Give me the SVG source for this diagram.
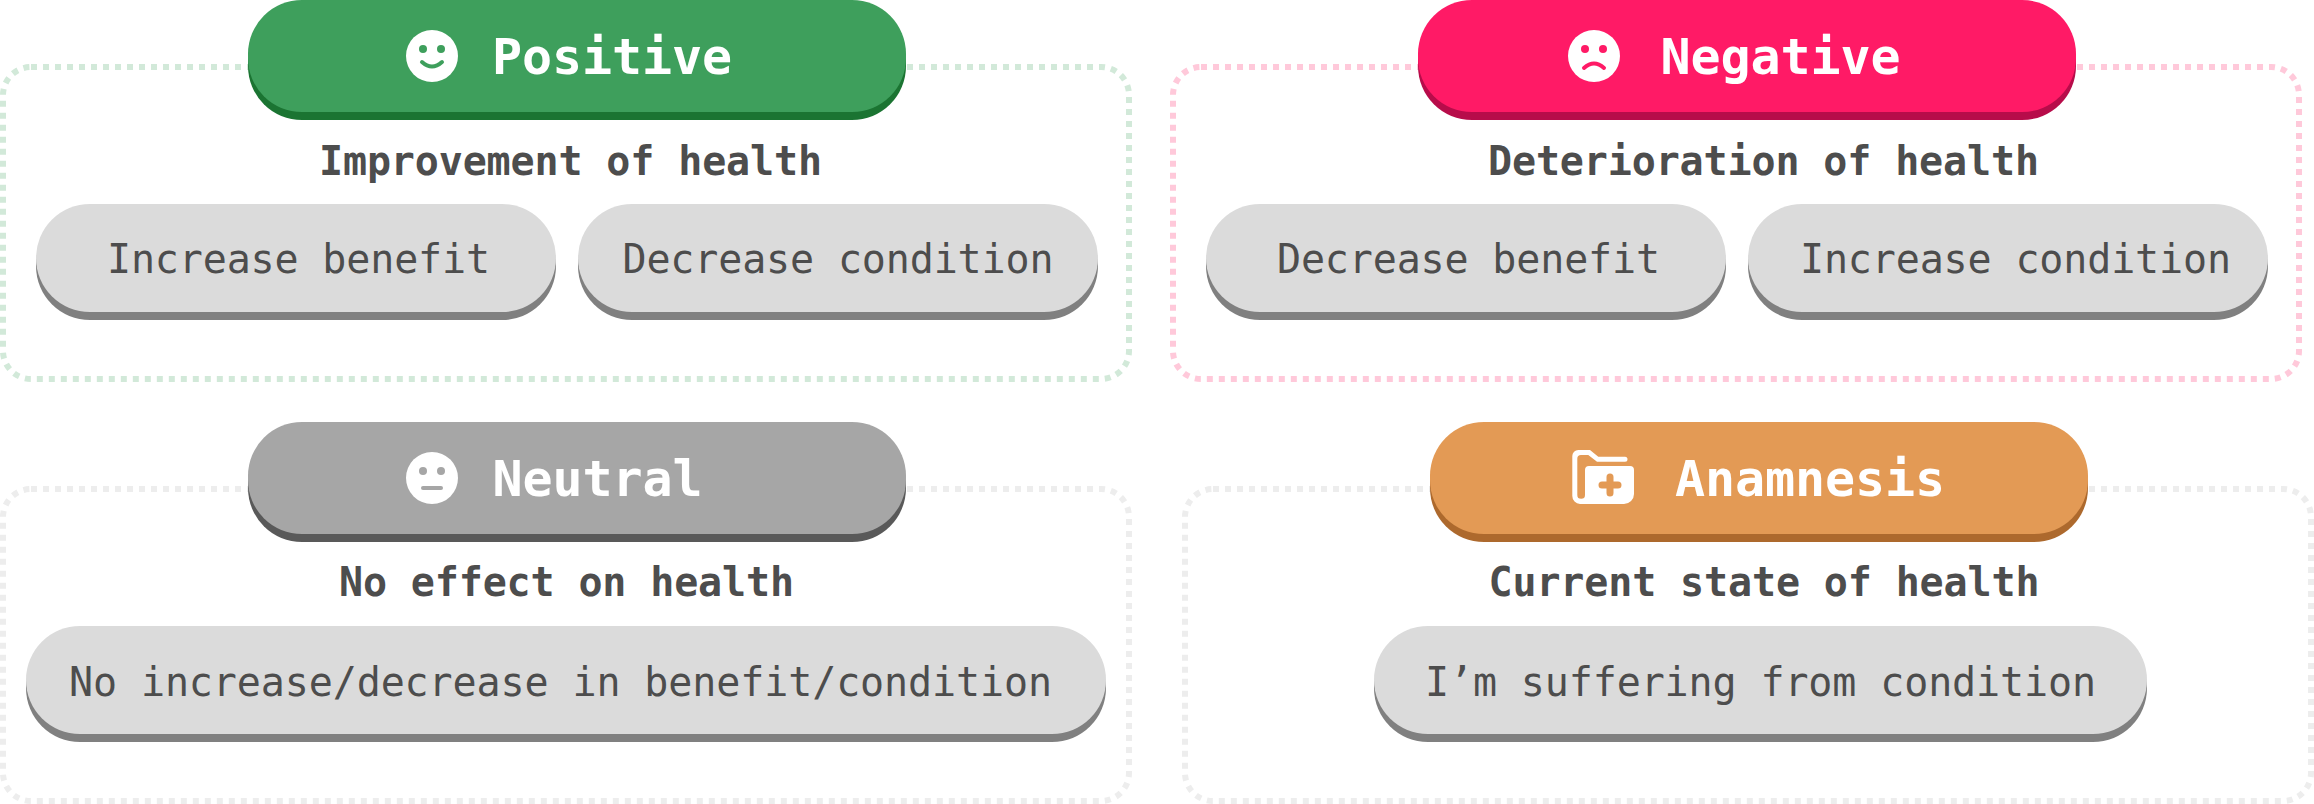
<svg xmlns="http://www.w3.org/2000/svg" width="2314" height="804" viewBox="0 0 2314 804">
<style>
.frame{fill:none;stroke-width:6;stroke-dasharray:6 6}
.t{font-family:"DejaVu Sans Mono","Liberation Mono",monospace}
.head{font-size:50px;font-weight:700;fill:#fff}
.sub{font-size:40px;font-weight:700;fill:#4d4d4d}
.item{font-size:40px;fill:#4d4d4d}
.sh{fill:#808080}.pill{fill:#dbdbdb}
</style>
<rect width="2314" height="804" fill="#fff"/>
<g id="positive">
<rect class="frame" x="3" y="67" width="1126" height="312" rx="28" stroke="#d2e9d9"/>
<rect x="248" y="8" width="658" height="112" rx="54" fill="#1b7432"/><rect x="248" y="0" width="658" height="112" rx="54" fill="#3e9f5c"/>
<circle cx="432" cy="56" r="26" fill="#fff"/><circle cx="423" cy="49" r="4" fill="#3e9f5c"/><circle cx="441" cy="49" r="4" fill="#3e9f5c"/>
<path d="M422 62Q432 71 442 62" fill="none" stroke="#3e9f5c" stroke-width="4" stroke-linecap="round"/>
<text class="t head" x="492" y="74" textLength="240">Positive</text>
<text class="t sub" x="319" y="174.5" textLength="503">Improvement of health</text>
<rect class="sh" x="36" y="212" width="520" height="108" rx="54"/><rect class="pill" x="36" y="204" width="520" height="108" rx="54"/>
<text class="t item" x="107" y="273" textLength="383">Increase benefit</text>
<rect class="sh" x="578" y="212" width="520" height="108" rx="54"/><rect class="pill" x="578" y="204" width="520" height="108" rx="54"/>
<text class="t item" x="622.5" y="273" textLength="431">Decrease condition</text>
</g>
<g id="negative">
<rect class="frame" x="1173" y="67" width="1126" height="312" rx="28" stroke="#ffc9da"/>
<rect x="1418" y="8" width="658" height="112" rx="54" fill="#b70c4a"/><rect x="1418" y="0" width="658" height="112" rx="54" fill="#ff1a66"/>
<circle cx="1594" cy="56" r="26" fill="#fff"/><circle cx="1585" cy="49" r="4" fill="#ff1a66"/><circle cx="1603" cy="49" r="4" fill="#ff1a66"/>
<path d="M1584 68Q1594 59 1604 68" fill="none" stroke="#ff1a66" stroke-width="4" stroke-linecap="round"/>
<text class="t head" x="1660.5" y="74" textLength="240">Negative</text>
<text class="t sub" x="1488" y="174.5" textLength="551">Deterioration of health</text>
<rect class="sh" x="1206" y="212" width="520" height="108" rx="54"/><rect class="pill" x="1206" y="204" width="520" height="108" rx="54"/>
<text class="t item" x="1277" y="273" textLength="383">Decrease benefit</text>
<rect class="sh" x="1748" y="212" width="520" height="108" rx="54"/><rect class="pill" x="1748" y="204" width="520" height="108" rx="54"/>
<text class="t item" x="1800" y="273" textLength="431">Increase condition</text>
</g>
<g id="neutral">
<rect class="frame" x="3" y="489" width="1126" height="312" rx="28" stroke="#ededed"/>
<rect x="248" y="430" width="658" height="112" rx="54" fill="#595959"/><rect x="248" y="422" width="658" height="112" rx="54" fill="#a6a6a6"/>
<circle cx="432" cy="478" r="26" fill="#fff"/><circle cx="423" cy="471" r="4" fill="#a6a6a6"/><circle cx="441" cy="471" r="4" fill="#a6a6a6"/>
<path d="M423 488H441" fill="none" stroke="#a6a6a6" stroke-width="4" stroke-linecap="round"/>
<text class="t head" x="492.5" y="495.5" textLength="210">Neutral</text>
<text class="t sub" x="339" y="596" textLength="455">No effect on health</text>
<rect class="sh" x="26" y="634" width="1080" height="108" rx="54"/><rect class="pill" x="26" y="626" width="1080" height="108" rx="54"/>
<text class="t item" x="69" y="696" textLength="983">No increase/decrease in benefit/condition</text>
</g>
<g id="anamnesis">
<rect class="frame" x="1185" y="489" width="1126" height="312" rx="28" stroke="#ededed"/>
<rect x="1430" y="430" width="658" height="112" rx="54" fill="#ad692d"/><rect x="1430" y="422" width="658" height="112" rx="54" fill="#e39a55"/>
<path d="M1572.3 456a6 6 0 0 1 6-6H1590L1598.3 456.7H1625a2.5 2.5 0 0 1 0 5H1597L1588.3 455H1581a3.7 3.7 0 0 0-3.7 3.7V495a3.8 3.8 0 0 0 7.7 0V470a4 4 0 0 1 4-4H1630a4 4 0 0 1 4 4V494a10 10 0 0 1-10 10H1580a8 8 0 0 1-7.7-8Z" fill="#fff"/>
<path d="M1610 477V493M1602 485H1618" fill="none" stroke="#e39a55" stroke-width="7" stroke-linecap="round"/>
<text class="t head" x="1675" y="495.5" textLength="270">Anamnesis</text>
<text class="t sub" x="1488.5" y="596" textLength="551">Current state of health</text>
<rect class="sh" x="1374" y="634" width="773" height="108" rx="54"/><rect class="pill" x="1374" y="626" width="773" height="108" rx="54"/>
<text class="t item" x="1425" y="696" textLength="671">I’m suffering from condition</text>
</g>
<g id="connectors"/>
</svg>
